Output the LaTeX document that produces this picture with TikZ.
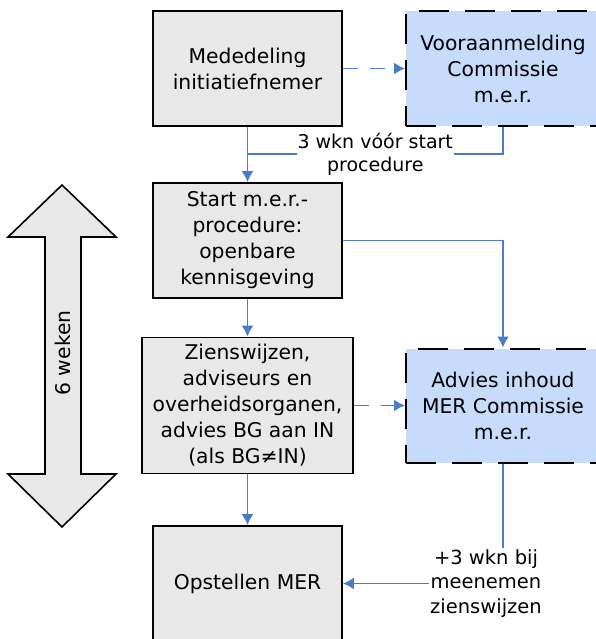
\documentclass[tikz,border=0pt]{standalone}
\usepackage{fontspec}
\setmainfont{DejaVu Sans}
\usetikzlibrary{arrows.meta}
\definecolor{boxgray}{RGB}{232,232,232}
\definecolor{merblue}{RGB}{198,220,250}
\definecolor{linkblue}{RGB}{74,122,200}
\begin{document}
\begin{tikzpicture}[x=1pt,y=-1pt,font=\fontsize{20.3}{26}\selectfont,
    stap/.style={draw,line width=1.8pt,fill=boxgray,align=center,inner sep=0pt,
      minimum width=189pt,minimum height=115pt},
    cmer/.style={stap,fill=merblue,minimum width=194pt,dash pattern=on 30pt off 16pt,line width=2pt},
    link/.style={draw=linkblue,line width=1.8pt},
    pijl/.style={link,-{Latex[length=11pt,width=12pt]}},
    stippel/.style={dash pattern=on 15pt off 12pt},
    notitie/.style={fill=white,align=center,inner sep=1pt}]
  \useasboundingbox (0,0) rectangle (595,639);
  \draw[line width=1.6pt,fill=boxgray]
    (62,185) -- (116,237) -- (81,237) -- (81,474) -- (116,474) -- (62,527)
    -- (8,474) -- (45,474) -- (45,237) -- (8,237) -- cycle;
  \node[rotate=90] (duur) at (63,353) {6 weken};
  \node[stap] (med) at (247.5,68.5) {Mededeling\\initiatiefnemer};
  \node[cmer] (voor) at (503,68.5) {Vooraanmelding\\Commissie\\m.e.r.};
  \node[stap] (start) at (247.5,240.5) {Start m.e.r.-\\procedure:\\openbare\\kennisgeving};
  \node[stap,minimum width=211pt,minimum height=136pt] (zien) at (247.5,405.5)
    {Zienswijzen,\\adviseurs en\\overheidsorganen,\\advies BG aan IN\\(als BG≠IN)};
  \node[cmer,minimum height=114pt] (advies) at (503,405.5) {Advies inhoud\\MER Commissie\\m.e.r.};
  \node[stap] (opst) at (247.5,583.5) {Opstellen MER};
  \node[notitie,font=\fontsize{19.5}{24.5}\selectfont] (plus) at (486,583.5) {+3 wkn bij\\meenemen\\zienswijzen};
  \coordinate (jn) at (247.5,154);
  \begin{scope}[pijl]
    \draw[stippel] (med) to (voor);
    \draw (med) to (start);
    \draw (start) -| (advies);
    \draw (start) to (zien);
    \draw[stippel] (zien) to (advies);
    \draw (zien) to (opst);
    \draw (plus) to (opst);
  \end{scope}
  \draw[link] (voor.south) |- (jn) node[notitie,pos=0.75,font=\fontsize{19}{23}\selectfont]
    {3 wkn vóór start\\procedure};
  \draw[link] (advies) to (advies |- plus.north);
\end{tikzpicture}
\end{document}
